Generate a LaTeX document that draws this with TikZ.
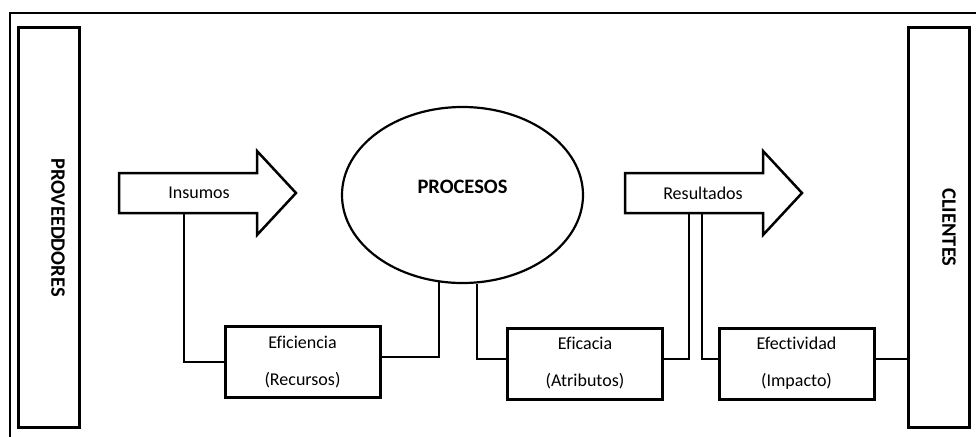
\documentclass[tikz,border=0pt]{standalone}
\usepackage{fontspec}
\setmainfont{Carlito}[Ligatures=NoCommon]
\usetikzlibrary{calc}
\usetikzlibrary{shapes.geometric}
\tikzset{
	panel/.style={draw=black,line width=3pt,minimum width=61pt,minimum height=399pt,inner sep=0pt},
	bloque/.style={draw=black,line width=3pt,minimum width=155pt,minimum height=71pt,inner sep=0pt,align=center},
	link/.style={line width=2pt},
	flecha/.style={draw=black,line width=2.5pt,line join=miter},
	flecha gorda/.pic={
		\draw[pic actions] (0,-20) -- (138,-20) -- (138,-42) -- (177,0) -- (138,42) -- (138,20) -- (0,20) -- cycle;
	},
}

\begin{document}
\begin{tikzpicture}[x=1pt,y=-1pt,font=\fontsize{18}{22}\selectfont]
		\useasboundingbox (0,0) rectangle (976,436);
		\draw[line width=1.5pt] (10,440) -- (10,13) -- (980,13);
		% laterales
		\node[panel] (prov) at (48.5,227.5) {};
		\node[rotate=-90,font=\fontsize{20.5}{24}\selectfont\bfseries] (provtext) at (58,227.5) {PROVEEDDORES};
		\node[panel] (cli) at (938.5,227.5) {};
		\node[rotate=-90,font=\fontsize{20.5}{24}\selectfont\bfseries] (clitext) at (949,227.5) {CLIENTES};
		% flechas
		\coordinate (ins) at (119,193);
		\coordinate (res) at (625,193);
		\pic[flecha] at (ins) {flecha gorda};
		\pic[flecha] at (res) {flecha gorda};
		\node (insumos) at (199,193) {Insumos};
		\node (resultados) at (703,193) {Resultados};
		% proceso
		\node[draw=black,line width=2.2pt,ellipse,minimum width=241pt,minimum height=176pt,inner sep=0pt] (proc) at (462.5,195) {};
		\node[font=\fontsize{20.5}{24}\selectfont\bfseries] (proctext) at (462.5,187) {PROCESOS};
		% indicadores
		\node[bloque] (efi) at (302.5,362) {Eficiencia\\[15pt](Recursos)};
		\node[bloque] (efa) at (585,363.5) {Eficacia\\[15pt](Atributos)};
		\node[bloque] (efe) at (796.5,363.5) {Efectividad\\[15pt](Impacto)};
		\draw[link] ($(ins)+(65,20)$) |- (efi.west);
		\draw[link] (proc.255) |- ($(efi.east)+(0,-5)$);
		\draw[link] (proc.279) |- ($(efa.west)+(0,-4.5)$);
		\draw[link] ($(res)+(64,20)$) |- ($(efa.east)+(0,-4.5)$);
		\draw[link] ($(res)+(77,20)$) |- ($(efe.west)+(0,-4.5)$);
		\draw[link] ($(efe.east)+(0,-5)$) -- ($(efe.east -| cli.west)+(0,-5)$);
	\end{tikzpicture}
\end{document}
